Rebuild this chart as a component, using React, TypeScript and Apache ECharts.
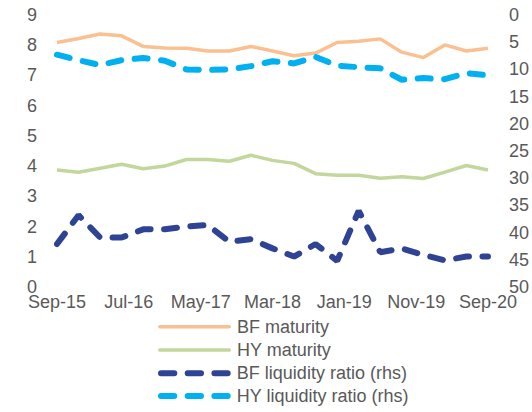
import React, { useEffect, useRef } from "react";
import * as echarts from "echarts";

const months = [0, 3, 6, 9, 12, 15, 18, 21, 24, 27, 30, 33, 36, 39, 42, 45, 48, 51, 54, 57, 60];
const tickLabels: Record<number, string> = {
  0: "Sep-15",
  10: "Jul-16",
  20: "May-17",
  30: "Mar-18",
  40: "Jan-19",
  50: "Nov-19",
  60: "Sep-20",
};
const bfMaturity = [8.09, 8.22, 8.37, 8.31, 7.96, 7.91, 7.9, 7.81, 7.81, 7.96, 7.81, 7.65, 7.74, 8.09, 8.13, 8.21, 7.77, 7.59, 8.01, 7.81, 7.9];
const hyMaturity = [3.87, 3.8, 3.93, 4.06, 3.91, 4.0, 4.22, 4.22, 4.16, 4.36, 4.19, 4.09, 3.75, 3.7, 3.7, 3.6, 3.65, 3.59, 3.8, 4.02, 3.87];
const bfLiquidity = [42.1, 36.8, 40.9, 40.9, 39.4, 39.4, 38.9, 38.6, 41.7, 41.2, 42.9, 44.4, 42.1, 45.2, 36.0, 43.6, 42.9, 44.1, 45.1, 44.4, 44.4];
const hyLiquidity = [7.3, 8.3, 9.2, 8.3, 7.9, 8.4, 10.0, 10.1, 10.0, 9.4, 8.5, 8.9, 7.7, 9.3, 9.6, 9.8, 11.9, 11.6, 11.8, 10.7, 11.1];

const TEXT = "#595959";
const FONT = "Liberation Sans, Arial, sans-serif";

const SOLID_ICON =
  "path://M1.75,0 H71.25 A1.75,1.75 0 0 1 71.25,3.5 H1.75 A1.75,1.75 0 0 1 1.75,0 Z";
const DASH_ICON =
  "path://M3,0 H16.3 A3,3 0 0 1 16.3,6 H3 A3,3 0 0 1 3,0 Z " +
  "M29.7,0 H43 A3,3 0 0 1 43,6 H29.7 A3,3 0 0 1 29.7,0 Z " +
  "M56.4,0 H69.7 A3,3 0 0 1 69.7,6 H56.4 A3,3 0 0 1 56.4,0 Z";

const pairs = (vals: number[]) => months.map((m, i) => [m, vals[i]]);

export default function App() {
  const ref = useRef<HTMLDivElement>(null);
  useEffect(() => {
    if (!ref.current) return;
    const chart = echarts.init(ref.current, undefined, { renderer: "svg" });
    const dash = { type: [13, 13.5] as number[], cap: "round" as const, width: 6 };
    const legendText = { color: TEXT, fontSize: 18, fontFamily: FONT, lineHeight: 18, padding: [0, 0, 0, 1] };
    chart.setOption({
      animation: false,
      textStyle: { fontFamily: FONT },
      grid: { left: 57, right: 40, top: 15, bottom: 125 },
      xAxis: {
        type: "value",
        min: 0,
        max: 60,
        interval: 10,
        axisLine: { show: false },
        axisTick: { show: false },
        splitLine: { show: false },
        axisLabel: {
          color: TEXT,
          fontSize: 18,
          fontFamily: FONT,
          lineHeight: 14,
          margin: 8,
          formatter: (v: number) => tickLabels[v] ?? "",
        },
      },
      yAxis: [
        {
          type: "value",
          min: 0,
          max: 9,
          interval: 1,
          axisLine: { show: false },
          axisTick: { show: false },
          splitLine: { show: false },
          axisLabel: { color: TEXT, fontSize: 18, fontFamily: FONT, lineHeight: 12, margin: 20 },
        },
        {
          type: "value",
          min: 0,
          max: 50,
          interval: 5,
          inverse: true,
          position: "right",
          axisLine: { show: false },
          axisTick: { show: false },
          splitLine: { show: false },
          axisLabel: { color: TEXT, fontSize: 18, fontFamily: FONT, lineHeight: 12, margin: 21 },
        },
      ],
      legend: [
        {
          orient: "vertical",
          left: 158,
          top: 317.7,
          padding: 0,
          itemWidth: 73,
          itemHeight: 3.5,
          itemGap: 5.3,
          itemStyle: { borderWidth: 0 },
          textStyle: legendText,
          data: [
            { name: "BF maturity", icon: SOLID_ICON },
            { name: "HY maturity", icon: SOLID_ICON },
          ],
        },
        {
          orient: "vertical",
          left: 158,
          top: 364.3,
          padding: 0,
          itemWidth: 73,
          itemHeight: 6,
          itemGap: 4.7,
          itemStyle: { borderWidth: 0 },
          textStyle: legendText,
          data: [
            { name: "BF liquidity ratio (rhs)", icon: DASH_ICON },
            { name: "HY liquidity ratio (rhs)", icon: DASH_ICON },
          ],
        },
      ],
      series: [
        {
          name: "BF maturity",
          type: "line",
          yAxisIndex: 0,
          symbol: "none",
          data: pairs(bfMaturity),
          lineStyle: { color: "#FAC090", width: 3.5 },
          itemStyle: { color: "#FAC090" },
        },
        {
          name: "HY maturity",
          type: "line",
          yAxisIndex: 0,
          symbol: "none",
          data: pairs(hyMaturity),
          lineStyle: { color: "#C3D69B", width: 3.5 },
          itemStyle: { color: "#C3D69B" },
        },
        {
          name: "BF liquidity ratio (rhs)",
          type: "line",
          yAxisIndex: 1,
          symbol: "none",
          data: pairs(bfLiquidity),
          lineStyle: { color: "#2E4393", ...dash },
          itemStyle: { color: "#2E4393" },
        },
        {
          name: "HY liquidity ratio (rhs)",
          type: "line",
          yAxisIndex: 1,
          symbol: "none",
          data: pairs(hyLiquidity),
          lineStyle: { color: "#00B0F0", ...dash },
          itemStyle: { color: "#00B0F0" },
        },
      ],
    });
    return () => chart.dispose();
  }, []);
  return <div ref={ref} style={{ width: 532, height: 412, position: "absolute", left: 0, top: 0 }} />;
}
